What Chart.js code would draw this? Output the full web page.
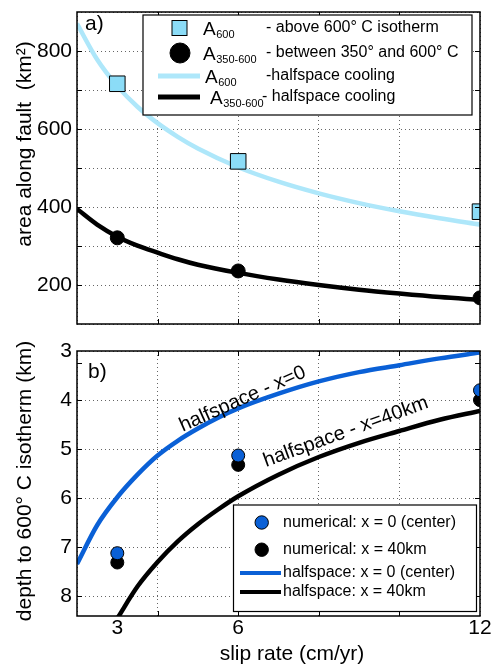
<!DOCTYPE html>
<html><head><meta charset="utf-8">
<script src="https://cdn.jsdelivr.net/npm/chart.js@4"></script>
<style>
html,body{margin:0;padding:0;background:#fff;}
#wrap{position:relative;width:492px;height:666px;overflow:hidden;background:#fff;}
canvas{position:absolute;left:0;}
</style></head><body>
<div id="wrap">
<canvas id="top" width="492" height="336" style="top:0;width:492px;height:336px"></canvas>
<canvas id="bot" width="492" height="330" style="top:336px;width:492px;height:330px"></canvas>
</div>
<script>
// ---------- data ----------
const slipRates = [3, 6, 12];                       // cm/yr, numerical runs
const areaA600 = [716, 517, 388];                   // km^2, above 600 C
const areaA350_600 = [321, 236, 167];               // km^2, between 350 and 600 C
const curveSlip = [2, 2.5, 3, 3.5, 4, 4.5, 5, 6, 7, 8, 9, 10, 11, 12];
const curveA600 = [870, 778, 710, 657, 615, 580, 550, 502, 465, 435, 410, 389, 371, 355];
const curveA350_600 = [395, 355, 324, 301, 283, 266, 252, 231, 214, 200, 188, 178, 169, 162];

const depthNumX0 = [7.12, 5.13, 3.80];              // km, numerical x = 0
const depthNumX40 = [7.31, 5.32, 4.00];             // km, numerical x = 40km
const halfX0Slip = [2, 2.5, 3, 3.5, 4, 4.5, 5, 5.5, 6, 7, 8, 9, 10, 11, 12];
const halfX0Depth = [7.34, 6.55, 5.98, 5.52, 5.13, 4.83, 4.58, 4.36, 4.17, 3.87, 3.62, 3.43, 3.29, 3.15, 3.03];
const halfX40Slip = [3, 3.5, 4, 4.5, 5, 5.5, 6, 7, 8, 9, 10, 11, 12];
const halfX40Depth = [8.45, 7.80, 7.30, 6.88, 6.53, 6.23, 5.96, 5.52, 5.16, 4.87, 4.63, 4.40, 4.22];

const slipGridTicks = [2, 4, 6, 8, 10, 12];
const slipTickLabels = [3, 6, 12];
const areaGridTicks = [100, 200, 300, 400, 500, 600, 700, 800, 900];
const areaTickLabels = [200, 400, 600, 800];
const depthTicks = [3, 4, 5, 6, 7, 8];
const depthExtraTicks = [3.25];

// ---------- styles ----------
const FONT = "'Liberation Sans', Arial, Helvetica, sans-serif";
const GRIDC = 'rgba(0,0,0,0.6)';
const SKY = '#8BDCF7';
const SKYLINE = '#AEE7FA';
const BLUE = '#0A60D6';
Chart.defaults.font.family = FONT;
Chart.defaults.color = '#000';

const pts = (xs, ys) => xs.map((x, i) => ({x: x, y: ys[i]}));

function drawFrame(chart, xTickVals, yTickVals) {
  const {ctx, chartArea: a, scales} = chart;
  ctx.save();
  ctx.strokeStyle = '#000';
  ctx.lineWidth = 1;
  ctx.beginPath();
  xTickVals.forEach(v => {
    const px = Math.round(scales.x.getPixelForValue(v)) + 0.5;
    ctx.moveTo(px, a.bottom); ctx.lineTo(px, a.bottom - 5);
    ctx.moveTo(px, a.top); ctx.lineTo(px, a.top + 5);
  });
  yTickVals.forEach(v => {
    const py = Math.round(scales.y.getPixelForValue(v)) + 0.5;
    ctx.moveTo(a.left, py); ctx.lineTo(a.left + 5, py);
    ctx.moveTo(a.right, py); ctx.lineTo(a.right - 5, py);
  });
  ctx.stroke();
  ctx.lineWidth = 1.5;
  ctx.strokeRect(a.left, a.top, a.right - a.left, a.bottom - a.top);
  ctx.restore();
}

function rotText(ctx, text, x, y, angDeg, size) {
  ctx.save();
  ctx.translate(x, y);
  ctx.rotate(angDeg * Math.PI / 180);
  ctx.font = size + 'px ' + FONT;
  ctx.fillStyle = '#000';
  ctx.textAlign = 'center';
  ctx.textBaseline = 'middle';
  ctx.fillText(text, 0, 0);
  ctx.restore();
}

function drawMarker(ctx, kind, x, y, color) {
  ctx.save();
  ctx.strokeStyle = '#000';
  ctx.lineWidth = 1;
  ctx.fillStyle = color;
  if (kind === 'square') {
    ctx.fillRect(x - 7.5, y - 7.5, 15, 15);
    ctx.strokeRect(x - 7.5, y - 7.5, 15, 15);
  } else {
    const r = kind === 'bigcircle' ? 10 : 6.7;
    ctx.beginPath(); ctx.arc(x, y, r, 0, Math.PI * 2); ctx.fill(); ctx.stroke();
  }
  ctx.restore();
}

function drawLine(ctx, x1, x2, y, color, w) {
  ctx.save();
  ctx.strokeStyle = color; ctx.lineWidth = w; ctx.lineCap = 'butt';
  ctx.beginPath(); ctx.moveTo(x1, y); ctx.lineTo(x2, y); ctx.stroke();
  ctx.restore();
}

function legendBox(ctx, l, t, r, b) {
  ctx.save();
  ctx.fillStyle = '#fff';
  ctx.fillRect(l, t, r - l, b - t);
  ctx.strokeStyle = '#000'; ctx.lineWidth = 1.2;
  ctx.strokeRect(l, t, r - l, b - t);
  ctx.restore();
}

// ---------- top panel ----------
const legendA = [
  {kind: 'square', y: 28, ax: 203, sub: '600', desc: '- above 600\u00B0 C isotherm', dx: 266},
  {kind: 'bigcircle', y: 53, ax: 203, sub: '350-600', desc: '- between 350\u00B0 and 600\u00B0 C', dx: 266},
  {kind: 'skyline', y: 76, ax: 205, sub: '600', desc: '-halfspace cooling', dx: 266},
  {kind: 'blackline', y: 97, ax: 210, sub: '350-600', desc: '- halfspace cooling', dx: 262}
];

const topPlugin = {
  id: 'topDecor',
  afterDraw(chart) {
    const ctx = chart.ctx;
    drawFrame(chart, slipGridTicks.slice(1, -1), areaGridTicks.slice(1, -1));
    ctx.save();
    ctx.font = '21px ' + FONT; ctx.fillStyle = '#000'; ctx.textBaseline = 'alphabetic';
    ctx.fillText('a)', 85, 30);
    ctx.restore();
    rotText(ctx, 'area along fault  (km\u00B2)', 25, 144, -90, 21);
    legendBox(ctx, 143, 15, 472, 115);
    legendA.forEach(it => {
      if (it.kind === 'square') drawMarker(ctx, 'square', 179.5, it.y, SKY);
      else if (it.kind === 'bigcircle') drawMarker(ctx, 'bigcircle', 180, it.y, '#000');
      else if (it.kind === 'skyline') drawLine(ctx, 158, 200, it.y, SKYLINE, 5);
      else drawLine(ctx, 158, 200, it.y, '#000', 5);
      ctx.save();
      ctx.fillStyle = '#000';
      ctx.textAlign = 'left';
      ctx.textBaseline = 'alphabetic';
      ctx.font = '19px ' + FONT;
      ctx.fillText('A', it.ax, it.y + 7);
      const aw = ctx.measureText('A').width;
      ctx.font = '11px ' + FONT;
      ctx.fillText(it.sub, it.ax + aw + 0.5, it.y + 10);
      ctx.font = '16px ' + FONT;
      ctx.textBaseline = 'middle';
      ctx.fillText(it.desc, it.dx, it.y);
      ctx.restore();
    });
  }
};

new Chart(document.getElementById('top'), {
  type: 'scatter',
  data: {
    datasets: [
      {label: 'A600', data: pts(slipRates, areaA600), pointStyle: 'rect', pointRadius: 11,
       backgroundColor: SKY, borderColor: '#000', borderWidth: 1, showLine: false, order: 0},
      {label: 'A350-600', data: pts(slipRates, areaA350_600), pointStyle: 'circle', pointRadius: 7,
       backgroundColor: '#000', borderColor: '#000', borderWidth: 1, showLine: false, order: 0},
      {label: 'A600 halfspace', data: pts(curveSlip, curveA600), showLine: true, pointRadius: 0,
       borderColor: SKYLINE, borderWidth: 4.5, cubicInterpolationMode: 'monotone', order: 2},
      {label: 'A350-600 halfspace', data: pts(curveSlip, curveA350_600), showLine: true, pointRadius: 0,
       borderColor: '#000', borderWidth: 4.5, cubicInterpolationMode: 'monotone', order: 1}
    ]
  },
  options: {
    responsive: false, animation: false, devicePixelRatio: 1,
    layout: {padding: {top: 7, right: 12, left: 0, bottom: 0}},
    plugins: {legend: {display: false}, tooltip: {enabled: false}},
    scales: {
      x: {
        type: 'linear', min: 2, max: 12,
        afterBuildTicks: s => { s.ticks = slipGridTicks.map(v => ({value: v})); },
        ticks: {display: false, autoSkip: false},
        grid: {color: GRIDC, lineWidth: 1, drawTicks: false},
        border: {display: false, dash: [1, 3]},
        afterFit: s => { s.height = 10; s.paddingLeft = 0; s.paddingRight = 0; s.paddingTop = 0; s.paddingBottom = 0; }
      },
      y: {
        type: 'linear', min: 100, max: 900,
        afterBuildTicks: s => { s.ticks = areaGridTicks.map(v => ({value: v})); },
        ticks: {autoSkip: false, font: {size: 21}, padding: 5,
                callback: v => areaTickLabels.includes(v) ? String(v) : ''},
        grid: {color: GRIDC, lineWidth: 1, drawTicks: false},
        border: {display: false, dash: [1, 3]},
        afterFit: s => { s.width = 77; s.paddingTop = 0; s.paddingBottom = 0; s.paddingLeft = 0; s.paddingRight = 0; }
      }
    }
  },
  plugins: [topPlugin]
});

// ---------- bottom panel ----------
const legendB = [
  {kind: 'bluedot', y: 522.5 - 336, text: 'numerical: x = 0 (center)'},
  {kind: 'blackdot', y: 549.7 - 336, text: 'numerical: x = 40km'},
  {kind: 'blueline', y: 573 - 336, text: 'halfspace: x = 0 (center)'},
  {kind: 'blackline', y: 592 - 336, text: 'halfspace: x = 40km'}
];
const curveLabels = [
  {text: 'halfspace - x=0', x: 6.11, y: 3.98, angle: -24},
  {text: 'halfspace - x=40km', x: 8.67, y: 4.65, angle: -20}
];

const botPlugin = {
  id: 'botDecor',
  afterDraw(chart) {
    const ctx = chart.ctx;
    const sx = chart.scales.x, sy = chart.scales.y;
    drawFrame(chart, slipGridTicks.slice(1, -1), depthTicks.slice(1).concat(depthExtraTicks));
    ctx.save();
    ctx.font = '21px ' + FONT; ctx.fillStyle = '#000'; ctx.textBaseline = 'alphabetic';
    ctx.fillText('b)', 88, 378 - 336);
    ctx.textAlign = 'center';
    ctx.fillText('slip rate (cm/yr)', 292, 660 - 336);
    ctx.restore();
    rotText(ctx, 'depth to 600\u00B0 C isotherm (km)', 25, 481 - 336, -90, 21);
    curveLabels.forEach(c => rotText(ctx, c.text, sx.getPixelForValue(c.x), sy.getPixelForValue(c.y), c.angle, 20));
    legendBox(ctx, 233.5, 505 - 336, 476.5, 611.5 - 336);
    legendB.forEach(it => {
      if (it.kind === 'bluedot') drawMarker(ctx, 'circle', 261.7, it.y, BLUE);
      else if (it.kind === 'blackdot') drawMarker(ctx, 'circle', 261.7, it.y, '#000');
      else if (it.kind === 'blueline') drawLine(ctx, 240, 281, it.y, BLUE, 4);
      else drawLine(ctx, 240, 281, it.y, '#000', 4);
      ctx.save();
      ctx.fillStyle = '#000'; ctx.font = '16px ' + FONT;
      ctx.textAlign = 'left'; ctx.textBaseline = 'middle';
      ctx.fillText(it.text, 283, it.y);
      ctx.restore();
    });
  }
};

new Chart(document.getElementById('bot'), {
  type: 'scatter',
  data: {
    datasets: [
      {label: 'numerical: x = 0 (center)', data: pts(slipRates, depthNumX0), pointStyle: 'circle', pointRadius: 6.5,
       backgroundColor: BLUE, borderColor: '#000', borderWidth: 1, showLine: false, order: 0},
      {label: 'numerical: x = 40km', data: pts(slipRates, depthNumX40), pointStyle: 'circle', pointRadius: 6.5,
       backgroundColor: '#000', borderColor: '#000', borderWidth: 1, showLine: false, order: 1},
      {label: 'halfspace: x = 0 (center)', data: pts(halfX0Slip, halfX0Depth), showLine: true, pointRadius: 0,
       borderColor: BLUE, borderWidth: 4.5, cubicInterpolationMode: 'monotone', order: 2},
      {label: 'halfspace: x = 40km', data: pts(halfX40Slip, halfX40Depth), showLine: true, pointRadius: 0,
       borderColor: '#000', borderWidth: 4.5, cubicInterpolationMode: 'monotone', order: 3}
    ]
  },
  options: {
    responsive: false, animation: false, devicePixelRatio: 1,
    layout: {padding: {top: 15, right: 12, left: 0, bottom: 0}},
    plugins: {legend: {display: false}, tooltip: {enabled: false}},
    scales: {
      x: {
        type: 'linear', min: 2, max: 12,
        afterBuildTicks: s => {
          s.ticks = Array.from(new Set(slipGridTicks.concat(slipTickLabels))).sort((a, b) => a - b).map(v => ({value: v}));
        },
        ticks: {autoSkip: false, maxRotation: 0, minRotation: 0, font: {size: 21}, padding: 0,
                callback: v => slipTickLabels.includes(v) ? String(v) : ''},
        grid: {color: c => (c.tick && !slipGridTicks.includes(c.tick.value)) ? 'rgba(0,0,0,0)' : GRIDC,
               lineWidth: 1, drawTicks: false},
        border: {display: false, dash: [1, 3]},
        afterFit: s => { s.height = 50; s.paddingLeft = 0; s.paddingRight = 0; s.paddingTop = 0; s.paddingBottom = 0; }
      },
      y: {
        type: 'linear', min: 3, max: 8.4, reverse: true,
        afterBuildTicks: s => { s.ticks = depthTicks.map(v => ({value: v})); },
        ticks: {autoSkip: false, font: {size: 21}, padding: 5, callback: v => String(v)},
        grid: {color: GRIDC, lineWidth: 1, drawTicks: false},
        border: {display: false, dash: [1, 3]},
        afterFit: s => { s.width = 77; s.paddingTop = 0; s.paddingBottom = 0; s.paddingLeft = 0; s.paddingRight = 0; }
      }
    }
  },
  plugins: [botPlugin]
});
</script>
</body></html>
